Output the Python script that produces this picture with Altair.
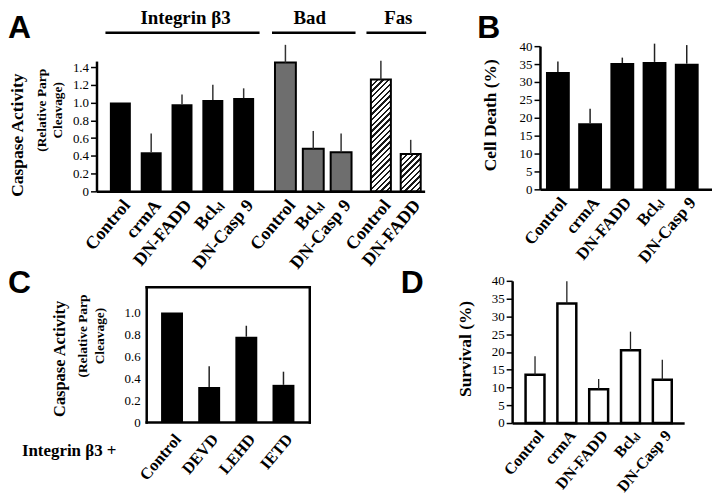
import altair as alt
import pandas as pd

# ---------------- data ----------------
A_int_cats = ["Control", "crmA", "DN-FADD", "Bclₓₗ", "DN-Casp 9"]
A_int_vals = [1.00, 0.44, 0.98, 1.03, 1.05]
A_int_upper = [1.00, 0.65, 1.09, 1.20, 1.16]

A_bad_cats = ["Control", "Bclₓₗ", "DN-Casp 9"]
A_bad_vals = [1.45, 0.48, 0.44]
A_bad_upper = [1.65, 0.68, 0.65]

A_fas_cats = ["Control", "DN-FADD"]
A_fas_vals = [1.26, 0.42]
A_fas_upper = [1.47, 0.58]

A_ticks = [0, 0.2, 0.4, 0.6, 0.8, 1.0, 1.2, 1.4]

B_cats = ["Control", "crmA", "DN-FADD", "Bclₓₗ", "DN-Casp 9"]
B_vals = [32.8, 18.5, 35.3, 35.6, 35.1]
B_upper = [35.7, 22.5, 36.8, 40.7, 40.3]
B_ticks = [0, 5, 10, 15, 20, 25, 30, 35, 40]

C_cats = ["Control", "DEVD", "LEHD", "IETD"]
C_vals = [1.00, 0.32, 0.78, 0.34]
C_upper = [1.00, 0.51, 0.88, 0.46]
C_ticks = [0, 0.2, 0.4, 0.6, 0.8, 1.0]

D_cats = ["Control", "crmA", "DN-FADD", "Bclₓₗ", "DN-Casp 9"]
D_vals = [13.6, 33.6, 9.5, 20.5, 12.2]
D_upper = [18.8, 39.9, 12.4, 25.7, 17.8]
D_ticks = [0, 5, 10, 15, 20, 25, 30, 35, 40]

# ---------------- layout / style ----------------
W, H = 708, 486
SERIF = "Liberation Serif"
SANS = "Liberation Sans"
DEC = "datum.value == 0 ? '0' : format(datum.value, '.1f')"
INT = "format(datum.value, 'd')"


def frame(cats, vals, upper):
    return pd.DataFrame({"cat": cats, "value": vals, "upper": upper})


def xlab_axis(offset, size=18, pad=5, angle=-50, **kw):
    base = dict(orient="bottom", offset=offset, labelAngle=angle, labelAlign="right",
                labelBaseline="top", labelFont=SERIF, labelFontWeight="bold",
                labelFontSize=size, labelColor="black", labelPadding=pad, ticks=False,
                title=None, labelOverlap=False, labelLimit=300,
                domainWidth=2.5, domainColor="black", grid=False)
    base.update(kw)
    return alt.Axis(**base)


def y_axis(offset, values, expr, title, tx, ty, tsize, **kw):
    base = dict(orient="left", offset=offset, values=values, labelExpr=expr,
                labelFont=SERIF, labelFontSize=13, labelColor="black",
                tickSize=6, tickWidth=1.5, tickColor="black", labelPadding=2,
                domainWidth=2.5, domainColor="black", grid=False,
                title=title, titleFont=SERIF, titleFontWeight="bold",
                titleFontSize=tsize, titleX=tx, titleY=ty, titleAngle=-90,
                titleBaseline="middle", titleAlign="center", titleColor="black")
    base.update(kw)
    return alt.Axis(**base)


def title_axis(offset, title, tx, ty, tsize, lh):
    return alt.Axis(orient="left", offset=offset, domain=False, labels=False, ticks=False,
                    grid=False, title=title, titleFont=SERIF, titleFontWeight="bold",
                    titleFontSize=tsize, titleLineHeight=lh, titleX=tx, titleY=ty,
                    titleAngle=-90, titleBaseline="middle", titleAlign="center",
                    titleColor="black")


def hatch(w, h, period=4.0, frac=0.42):
    a = (w + h) / (w * w + h * h)
    n = max(1, round((w + h) / (2 ** 0.5 * period)))
    stops = []
    for k in range(n):
        o0, o1, o2 = k / n, (k + frac) / n, (k + 1) / n
        stops += [alt.GradientStop(offset=o0, color="#1a1a1a"),
                  alt.GradientStop(offset=o1, color="#1a1a1a"),
                  alt.GradientStop(offset=o1, color="#ffffff"),
                  alt.GradientStop(offset=o2, color="#ffffff")]
    return alt.LinearGradient(gradient="linear", stops=stops, x1=0, y1=0, x2=a * w, y2=a * h)


# ---------------- panel A ----------------
A_base_y, A_top_y, A_dom = 183, 52, 1.467
yA = alt.Scale(domain=[0, A_dom], range=[A_base_y, A_top_y], nice=False, zero=True)
pxA = (A_base_y - A_top_y) / A_dom
A_axis_x = 89
HEAD_LINE_Y = 23


def a_group(cats, vals, upper, xr, pin, header, hx, bar_layers, sub=None):
    df = frame(cats, vals, upper)
    xs = alt.Scale(domain=cats, range=xr, paddingInner=pin, paddingOuter=pin / 2)
    layers = []
    for i, (style, flt) in enumerate(bar_layers):
        ch = alt.Chart(df)
        if flt is not None:
            ch = ch.transform_filter(alt.datum.cat == flt)
        yax = None
        if i == 0 and sub is not None:
            yax = sub
        layers.append(ch.mark_bar(**style).encode(
            x=alt.X("cat:N", scale=xs,
                    axis=xlab_axis(A_base_y - H, size=18, domain=False) if i == 0 else None),
            y=alt.Y("value:Q", scale=yA, axis=yax),
        ))
    errs = alt.Chart(df).mark_rule(color="#333333", strokeWidth=1.5).encode(
        x=alt.X("cat:N", scale=xs, axis=alt.Axis(
            orient="top", offset=-HEAD_LINE_Y, labels=False, ticks=False, domainWidth=2.5,
            domainColor="black", grid=False, title=header, titleFont=SERIF,
            titleFontWeight="bold", titleFontSize=19, titleX=hx, titleY=-9,
            titleBaseline="alphabetic", titleAlign="center", titleColor="black")),
        y=alt.Y("value:Q", scale=yA, axis=None),
        y2="upper:Q",
    )
    return alt.layer(*layers, errs).resolve_axis(x="independent", y="independent")


sub_A = title_axis(-A_axis_x, ["(Relative Parp", "Cleavage)"], 34 - A_axis_x, 101, 13.5, 16)
grp_int = a_group(A_int_cats, A_int_vals, A_int_upper, [97.5, 252.5], 0.32, "Integrin β3", 178,
                  [(dict(color="black"), None)], sub=sub_A)
grp_bad = a_group(A_bad_cats, A_bad_vals, A_bad_upper, [265, 349], 0.25, "Bad", 303,
                  [(dict(fill="#6e6e6e", stroke="black", strokeWidth=2), None)])
fas_bw = 60 / 2 * (1 - 0.33)
grp_fas = a_group(A_fas_cats, A_fas_vals, A_fas_upper, [360, 420], 0.33, "Fas", 392,
                  [(dict(fill=hatch(fas_bw, A_fas_vals[0] * pxA), stroke="black", strokeWidth=2), "Control"),
                   (dict(fill=hatch(fas_bw, A_fas_vals[1] * pxA), stroke="black", strokeWidth=2), "DN-FADD")])

base_A = alt.Chart(frame(A_int_cats, A_int_vals, A_int_upper)).mark_bar(opacity=0).encode(
    x=alt.X("cat:N", scale=alt.Scale(domain=A_int_cats, range=[A_axis_x, 419]),
            axis=alt.Axis(orient="bottom", offset=A_base_y - H, labels=False, ticks=False,
                          domainWidth=2.5, domainColor="black", grid=False, title=None)),
    y=alt.Y("value:Q", scale=yA,
            axis=y_axis(-A_axis_x, A_ticks, DEC, "Caspase Activity", 9.5 - A_axis_x, 126, 17.5)),
)

panel_A = alt.layer(base_A, grp_int, grp_bad, grp_fas).resolve_scale(
    x="independent", y="shared").resolve_axis(x="independent", y="independent")

# ---------------- panel B ----------------
dfB = frame(B_cats, B_vals, B_upper)
B_axis_x, B_base_y = 535, 181
xB = alt.Scale(domain=B_cats, range=[B_axis_x, 708], paddingInner=0.26, paddingOuter=0.3, align=0.31)
yB = alt.Scale(domain=[0, 40], range=[B_base_y, 37], nice=False)
bars_B = alt.Chart(dfB).mark_bar(color="black").encode(
    x=alt.X("cat:N", scale=xB, axis=xlab_axis(B_base_y - H, size=17)),
    y=alt.Y("value:Q", scale=yB,
            axis=y_axis(-B_axis_x, B_ticks, INT, "Cell Death (%)", 485 - B_axis_x, 106, 17.5)),
)
errs_B = alt.Chart(dfB).mark_rule(color="#222222", strokeWidth=1.5).encode(
    x=alt.X("cat:N", scale=xB, axis=None),
    y=alt.Y("value:Q", scale=yB, axis=None),
    y2="upper:Q",
)
panel_B = alt.layer(bars_B, errs_B).resolve_axis(x="independent", y="independent")

# ---------------- panel C ----------------
dfC = frame(C_cats, C_vals, C_upper)
C_left, C_right, C_base_y, C_top_y = 139, 303, 415, 279
xC = alt.Scale(domain=C_cats, range=[C_left, C_right], paddingInner=0.41, paddingOuter=0.40, align=0.5)
yC = alt.Scale(domain=[0, 1.236], range=[C_base_y, C_top_y], nice=False)
bars_C = alt.Chart(dfC).mark_bar(color="black").encode(
    x=alt.X("cat:N", scale=xC, axis=xlab_axis(
        C_base_y - H, size=16.5, pad=9, domainCap="square", title="Integrin β3 +", titleX=61,
        titleY=29, titleAngle=0, titleBaseline="middle", titleAlign="center", titleFont=SERIF,
        titleFontWeight="bold", titleFontSize=17, titleColor="black")),
    y=alt.Y("value:Q", scale=yC,
            axis=y_axis(-C_left, C_ticks, DEC, "Caspase Activity", 52 - C_left, 351, 16.5,
                        ticks=False, labelPadding=6, domainCap="square")),
)
errs_C = alt.Chart(dfC).mark_rule(color="#222222", strokeWidth=1.5).encode(
    x=alt.X("cat:N", scale=xC, axis=alt.Axis(
        orient="top", offset=-C_top_y, labels=False, ticks=False, domainWidth=2.5,
        domainColor="black", domainCap="square", grid=False, title=None)),
    y=alt.Y("value:Q", scale=yC, axis=alt.Axis(
        orient="right", offset=C_right - W, labels=False, ticks=False, domainWidth=2.5,
        domainColor="black", domainCap="square", grid=False, title=None)),
    y2="upper:Q",
)
sub_C = alt.Chart(dfC).mark_bar(opacity=0).encode(
    x=alt.X("cat:N", scale=xC, axis=None),
    y=alt.Y("value:Q", scale=yC,
            axis=title_axis(-C_left, ["(Relative Parp", "Cleavage)"], 75 - C_left, 328, 13.5, 17)),
)
panel_C = alt.layer(bars_C, errs_C, sub_C).resolve_axis(x="independent", y="independent")

# ---------------- panel D ----------------
dfD = frame(D_cats, D_vals, D_upper)
D_axis_x, D_base_y = 507, 416
xD = alt.Scale(domain=D_cats, range=[D_axis_x, 680], paddingInner=0.406, paddingOuter=0.406, align=0.52)
yD = alt.Scale(domain=[0, 40], range=[D_base_y, 273], nice=False)
bars_D = alt.Chart(dfD).mark_bar(fill="white", stroke="black", strokeWidth=2.5).encode(
    x=alt.X("cat:N", scale=xD, axis=xlab_axis(D_base_y - H, size=16, pad=4)),
    y=alt.Y("value:Q", scale=yD,
            axis=y_axis(-D_axis_x, D_ticks, INT, "Survival (%)", 460 - D_axis_x, 341, 17.5)),
)
errs_D = alt.Chart(dfD).mark_rule(color="#222222", strokeWidth=1.3).encode(
    x=alt.X("cat:N", scale=xD, axis=None),
    y=alt.Y("value:Q", scale=yD, axis=None),
    y2="upper:Q",
)
panel_D = alt.layer(bars_D, errs_D).resolve_axis(x="independent", y="independent")


# ---------------- panel letters ----------------
def letter(t, x, y):
    return alt.Chart(alt.Data(values=[{"t": t}])).mark_text(
        font=SANS, fontWeight="bold", fontSize=32, align="left", baseline="alphabetic",
        color="black").encode(text="t:N", x=alt.value(x), y=alt.value(y))


chart = alt.layer(
    panel_A, panel_B, panel_C, panel_D,
    letter("A", 0, 29), letter("B", 472, 29), letter("C", 0, 285), letter("D", 395, 285),
).resolve_scale(x="independent", y="independent").properties(
    width=W, height=H, padding=0, autosize="none"
).configure_view(stroke=None).configure_axis(grid=False)

chart.save("out.html", embed_options={"renderer": "svg", "actions": False})
